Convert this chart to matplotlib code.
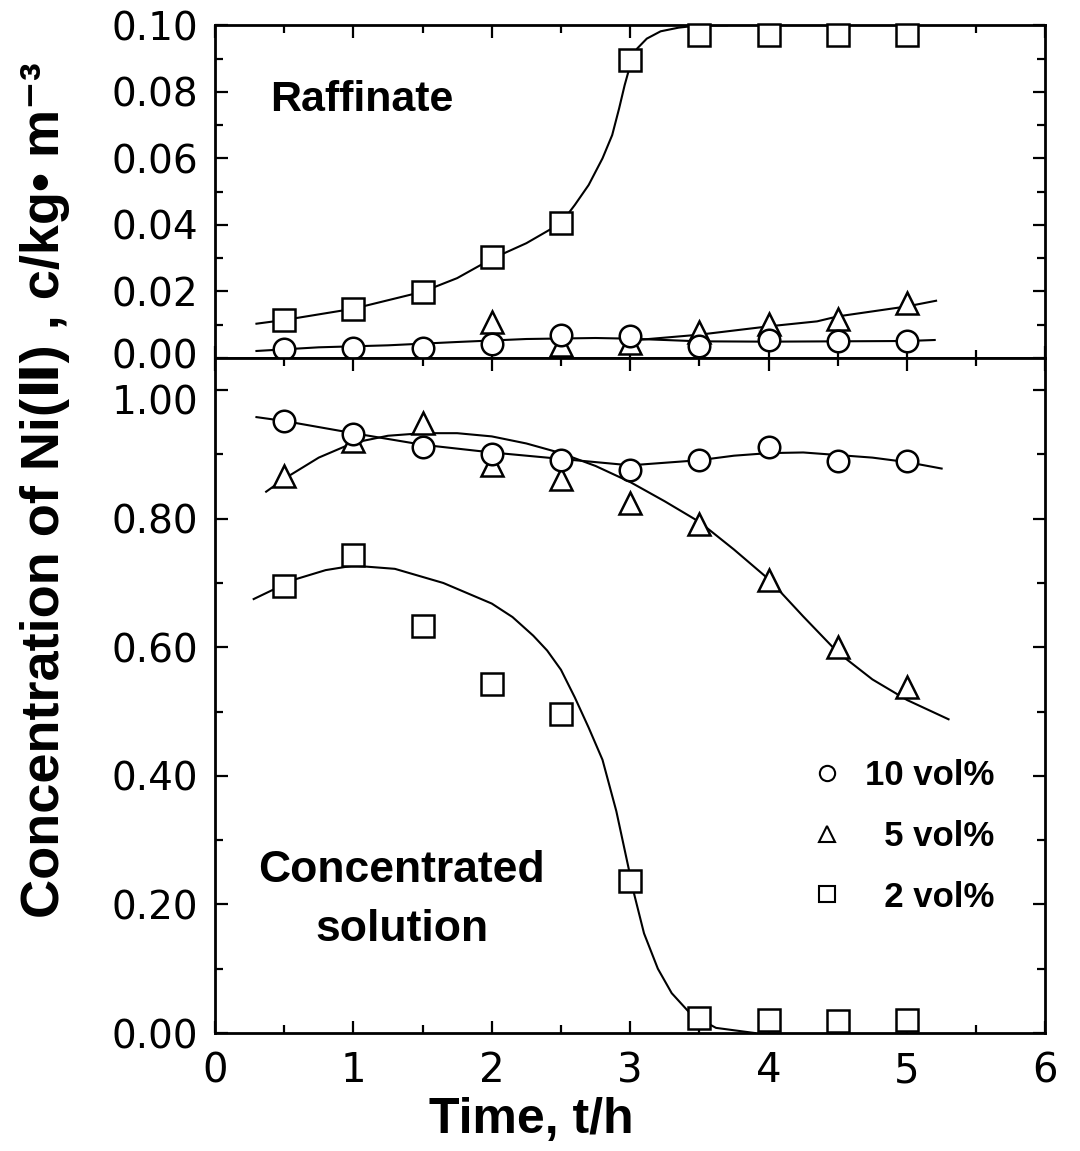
import numpy as np
import matplotlib
matplotlib.use('Agg')
import matplotlib.pyplot as plt
import matplotlib.transforms as mtransforms
from matplotlib.lines import Line2D
from matplotlib.ticker import MultipleLocator

# sampling times, h
t = [0.5, 1.0, 1.5, 2.0, 2.5, 3.0, 3.5, 4.0, 4.5, 5.0]
t_tri_raff = [2.0, 2.5, 3.0, 3.5, 4.0, 4.5, 5.0]

# raffinate, kg/m3
raff_10 = [0.0027, 0.0031, 0.0031, 0.0043, 0.0070, 0.0065, 0.0037, 0.0055, 0.0051, 0.0051]
raff_5 = [0.0107, 0.0040, 0.0045, 0.0079, 0.0101, 0.0116, 0.0164]
raff_2 = [0.0114, 0.0148, 0.0199, 0.0305, 0.0405, 0.0895, 0.0970, 0.0970, 0.0970, 0.0970]

# concentrated solution, kg/m3
conc_10 = [0.952, 0.931, 0.911, 0.900, 0.891, 0.876, 0.891, 0.911, 0.890, 0.889]
conc_5 = [0.867, 0.921, 0.949, 0.884, 0.861, 0.825, 0.792, 0.704, 0.601, 0.538]
conc_2 = [0.695, 0.743, 0.633, 0.543, 0.496, 0.237, 0.024, 0.020, 0.018, 0.020]

# smooth guide curves
raff_10_fit_t = [0.3, 0.75, 1.25, 1.75, 2.25, 2.75, 3.0, 3.5, 4.0, 4.5, 5.0, 5.2]
raff_10_fit = [0.0021, 0.0032, 0.0038, 0.0048, 0.0057, 0.0060, 0.0058, 0.0050, 0.0049, 0.0050, 0.0051, 0.0054]
raff_5_fit_t = [3.05, 3.5, 4.0, 4.35, 4.5, 5.0, 5.21]
raff_5_fit = [0.0054, 0.0070, 0.0095, 0.0110, 0.0125, 0.0155, 0.0172]
raff_2_fit_t = [0.3, 0.5, 1.0, 1.5, 1.75, 2.0, 2.25, 2.5, 2.6, 2.7, 2.8, 2.87, 2.92, 2.96,
                3.0, 3.05, 3.12, 3.22, 3.35, 3.5, 3.7]
raff_2_fit = [0.0103, 0.0114, 0.0148, 0.0199, 0.0240, 0.0298, 0.0345, 0.0405, 0.0460, 0.0520,
              0.0600, 0.0670, 0.0750, 0.0820, 0.0880, 0.0930, 0.0960, 0.0982, 0.0993, 0.1000, 0.1000]

conc_10_fit_t = [0.3, 0.5, 1.0, 1.5, 2.0, 2.5, 3.0, 3.5, 3.75, 4.0, 4.25, 4.5, 4.75, 5.0, 5.25]
conc_10_fit = [0.958, 0.952, 0.933, 0.915, 0.903, 0.893, 0.883, 0.891, 0.898, 0.902, 0.903,
               0.899, 0.895, 0.888, 0.878]
conc_5_fit_t = [0.37, 0.5, 0.75, 1.0, 1.25, 1.5, 1.75, 2.0, 2.25, 2.5, 2.75, 3.0, 3.25, 3.5,
                3.75, 4.0, 4.25, 4.5, 4.75, 5.0, 5.3]
conc_5_fit = [0.842, 0.862, 0.895, 0.918, 0.929, 0.933, 0.933, 0.928, 0.917, 0.902, 0.882,
              0.857, 0.827, 0.795, 0.752, 0.706, 0.648, 0.592, 0.550, 0.518, 0.488]
conc_2_fit_t = [0.28, 0.57, 0.8, 1.0, 1.3, 1.65, 2.0, 2.15, 2.3, 2.4, 2.5, 2.6, 2.7, 2.8,
                2.9, 2.97, 3.03, 3.1, 3.2, 3.3, 3.44, 3.62, 3.9]
conc_2_fit = [0.675, 0.705, 0.720, 0.727, 0.722, 0.700, 0.668, 0.647, 0.618, 0.595, 0.565,
              0.522, 0.475, 0.425, 0.345, 0.275, 0.215, 0.155, 0.100, 0.062, 0.029, 0.008, 0.0]

labels = ['10 vol%', '  5 vol%', '  2 vol%']
bold_font = ['Liberation Sans', 'DejaVu Sans']

fig = plt.figure(figsize=(10.8, 11.51), dpi=100)
ax_top = fig.add_axes([0.199, 0.689, 0.769, 0.289])
ax_bot = fig.add_axes([0.199, 0.1025, 0.769, 0.5865])

mk = dict(ls='none', ms=15.5, mfc='white', mec='black', mew=1.8)
lw = 1.5

# raffinate panel
ax_top.plot(raff_2_fit_t, raff_2_fit, color='black', lw=lw, zorder=2)
ax_top.plot(raff_10_fit_t, raff_10_fit, color='black', lw=lw, zorder=2)
ax_top.plot(raff_5_fit_t, raff_5_fit, color='black', lw=lw, zorder=2)
ax_top.plot(t, raff_2, marker='s', zorder=3, clip_on=False, **mk)
ax_top.plot(t_tri_raff, raff_5, marker='^', zorder=4, **mk)
ax_top.plot(t, raff_10, marker='o', zorder=5, **mk)

# concentrated solution panel
ax_bot.plot(conc_2_fit_t, conc_2_fit, color='black', lw=lw, zorder=2)
ax_bot.plot(conc_5_fit_t, conc_5_fit, color='black', lw=lw, zorder=2)
ax_bot.plot(conc_10_fit_t, conc_10_fit, color='black', lw=lw, zorder=2)
ax_bot.plot(t, conc_2, marker='s', zorder=3, clip_on=False, **mk)
ax_bot.plot(t, conc_5, marker='^', zorder=4, **mk)
ax_bot.plot(t, conc_10, marker='o', zorder=5, **mk)

ax_top.set_xlim(0, 6)
ax_top.set_ylim(0, 0.10)
ax_bot.set_xlim(0, 6)
ax_bot.set_ylim(0, 1.05)

ax_top.set_yticks(np.arange(0, 0.101, 0.02))
ax_top.set_yticklabels(['%.2f' % v for v in np.arange(0, 0.101, 0.02)])
ax_top.yaxis.set_minor_locator(MultipleLocator(0.01))
ax_bot.set_yticks(np.arange(0, 1.01, 0.2))
ax_bot.set_yticklabels(['%.2f' % v for v in np.arange(0, 1.01, 0.2)])
ax_bot.yaxis.set_minor_locator(MultipleLocator(0.1))

for ax in (ax_top, ax_bot):
    ax.xaxis.set_major_locator(MultipleLocator(1))
    ax.xaxis.set_minor_locator(MultipleLocator(0.5))
    ax.tick_params(which='both', direction='in', top=True, right=True, width=1.6)
    ax.tick_params(which='major', length=9)
    ax.tick_params(which='minor', length=6)
    ax.tick_params(axis='y', labelsize=28, pad=12)
    ax.tick_params(axis='x', labelsize=29, pad=13)
    for s in ax.spines.values():
        s.set_linewidth(2.0)

ax_top.tick_params(labelbottom=False)
ax_bot.set_xticks(range(0, 7))

# nudge the two labels that meet at the panel boundary apart, as in the original
down = mtransforms.ScaledTranslation(0, -7 / 72, fig.dpi_scale_trans)
up = mtransforms.ScaledTranslation(0, 3 / 72, fig.dpi_scale_trans)
ax_bot.get_yticklabels()[-1].set_transform(ax_bot.get_yticklabels()[-1].get_transform() + down)
ax_top.get_yticklabels()[0].set_transform(ax_top.get_yticklabels()[0].get_transform() + up)

ax_top.text(0.40, 0.0775, 'Raffinate', fontsize=31, fontweight='bold',
            family=bold_font, ha='left', va='center')
ax_bot.text(1.35, 0.207, 'Concentrated\nsolution', fontsize=32, fontweight='bold',
            family=bold_font, ha='center', va='center', linespacing=1.55)

handles = [
    Line2D([], [], marker='o', ls='none', ms=11, mfc='white', mec='black', mew=1.5),
    Line2D([], [], marker='^', ls='none', ms=11, mfc='white', mec='black', mew=1.5),
    Line2D([], [], marker='s', ls='none', ms=11, mfc='white', mec='black', mew=1.5),
]
ax_bot.legend(handles, labels, loc='upper left', bbox_to_anchor=(0.716, 0.406),
              frameon=False, handlelength=1.0, handletextpad=0.6, labelspacing=0.8,
              borderpad=0, borderaxespad=0,
              prop={'family': bold_font, 'weight': 'bold', 'size': 25})

fig.text(0.042, 0.574, 'Concentration of Ni(\u2161) , c/kg\u2022 m\u207b\u00b3',
         rotation=90, ha='center', va='center', fontsize=39, fontweight='bold',
         family=bold_font)
fig.text(0.492, 0.027, 'Time, t/h', ha='center', va='center', fontsize=36,
         fontweight='bold', family=bold_font)

fig.savefig('out.png', dpi=100)
